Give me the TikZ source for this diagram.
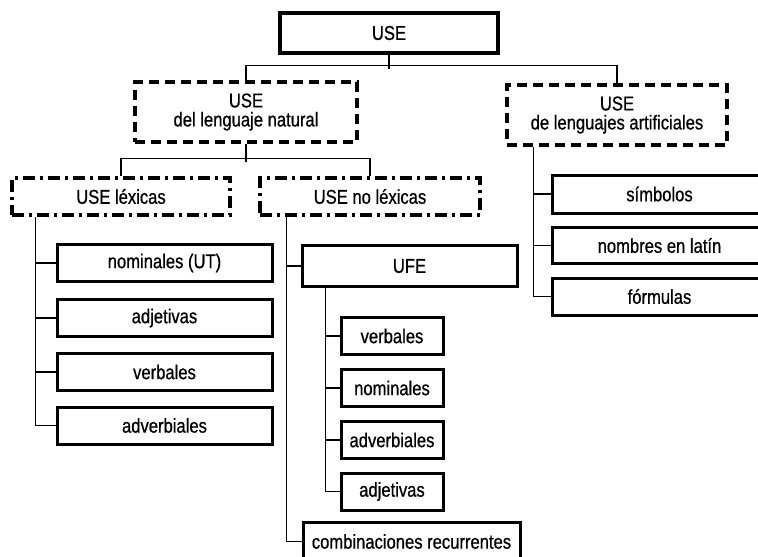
\documentclass[tikz,border=0pt]{standalone}
\usepackage{fontspec}
\setmainfont{Liberation Sans}[FakeStretch=0.83,FakeBold=0.7]
\usetikzlibrary{calc}
\begin{document}
\begin{tikzpicture}[x=1pt,y=-1pt,
  box/.style={draw=black,line width=3pt,rectangle,inner sep=0pt,align=center,
    font=\fontsize{20}{19}\selectfont},
  dbox/.style={box,line width=3.5pt,dash pattern=on 10pt off 6pt},
  ddbox/.style={box,line width=3.5pt,dash pattern=on 12pt off 5pt on 3pt off 5pt},
  conn/.style={draw=black,line width=1.3pt}]
\useasboundingbox (0,0) rectangle (758,557);
\clip (0,0) rectangle (758,557);
% level 0
\node[box,line width=4pt,minimum width=218pt,minimum height=40pt] (top) at (389,33) {USE};
% level 1
\node[dbox,minimum width=222pt,minimum height=60pt] (nat) at (246,112) {USE\\del lenguaje natural};
\node[dbox,minimum width=220pt,minimum height=60pt] (art) at (617,115) {USE\\de lenguajes artificiales};
% level 2
\node[ddbox,minimum width=218pt,minimum height=37pt] (lex) at (121,196.5) {USE léxicas};
\node[ddbox,minimum width=220pt,minimum height=37pt] (nolex) at (370,196.5) {USE no léxicas};
% lexicas children
\node[box,minimum width=215pt,minimum height=37pt] (nomUT) at (164.5,263) {nominales (UT)};
\node[box,minimum width=215pt,minimum height=37pt] (adjA) at (164.5,318) {adjetivas};
\node[box,minimum width=215pt,minimum height=37pt] (verbA) at (164.5,372) {verbales};
\node[box,minimum width=215pt,minimum height=37pt] (advA) at (164.5,425.5) {adverbiales};
% no lexicas children
\node[box,minimum width=215pt,minimum height=41pt] (ufe) at (409.5,266) {UFE};
\node[box,minimum width=102pt,minimum height=37pt] (verbB) at (392,336) {verbales};
\node[box,minimum width=102pt,minimum height=37pt] (nomB) at (392,388) {nominales};
\node[box,minimum width=102pt,minimum height=37pt] (advB) at (392,440) {adverbiales};
\node[box,minimum width=102pt,minimum height=37pt] (adjB) at (392,491.5) {adjetivas};
\node[box,minimum width=217pt,minimum height=38pt] (comb) at (411.5,541.5) {combinaciones recurrentes};
% artificiales children
\node[box,minimum width=215pt,minimum height=38pt] (sim) at (659.5,194) {símbolos};
\node[box,minimum width=215pt,minimum height=36pt] (lat) at (659.5,245.5) {nombres en latín};
\node[box,minimum width=215pt,minimum height=37pt] (form) at (659.5,296.5) {fórmulas};
% connectors level 0-1
\draw[conn] (top.south) -- ++(0,14);
\draw[conn] (nat.north) -- ++(0,-15) -| (art.north);
% level 1-2
\draw[conn] (nat.south) -- ++(0,18);
\draw[conn] (lex.north) -- ++(0,-18) -| (nolex.north);
% lexicas
\coordinate (lx) at ($(lex.south west)+(25,0)$);
\draw[conn] (lx) |- (advA.west);
\draw[conn] (nomUT.west) -- (nomUT.west -| lx);
\draw[conn] (adjA.west) -- (adjA.west -| lx);
\draw[conn] (verbA.west) -- (verbA.west -| lx);
% no lexicas
\coordinate (nx) at ($(nolex.south west)+(28,0)$);
\draw[conn] (nx) |- (comb.west);
\draw[conn] (ufe.west) -- (ufe.west -| nx);
% UFE
\coordinate (ux) at ($(ufe.south west)+(25,0)$);
\draw[conn] (ux) |- (adjB.west);
\draw[conn] (verbB.west) -- (verbB.west -| ux);
\draw[conn] (nomB.west) -- (nomB.west -| ux);
\draw[conn] (advB.west) -- (advB.west -| ux);
% artificiales
\coordinate (ax) at ($(art.south west)+(28,0)$);
\draw[conn] (ax) |- (form.west);
\draw[conn] (sim.west) -- (sim.west -| ax);
\draw[conn] (lat.west) -- (lat.west -| ax);
\end{tikzpicture}
\end{document}
